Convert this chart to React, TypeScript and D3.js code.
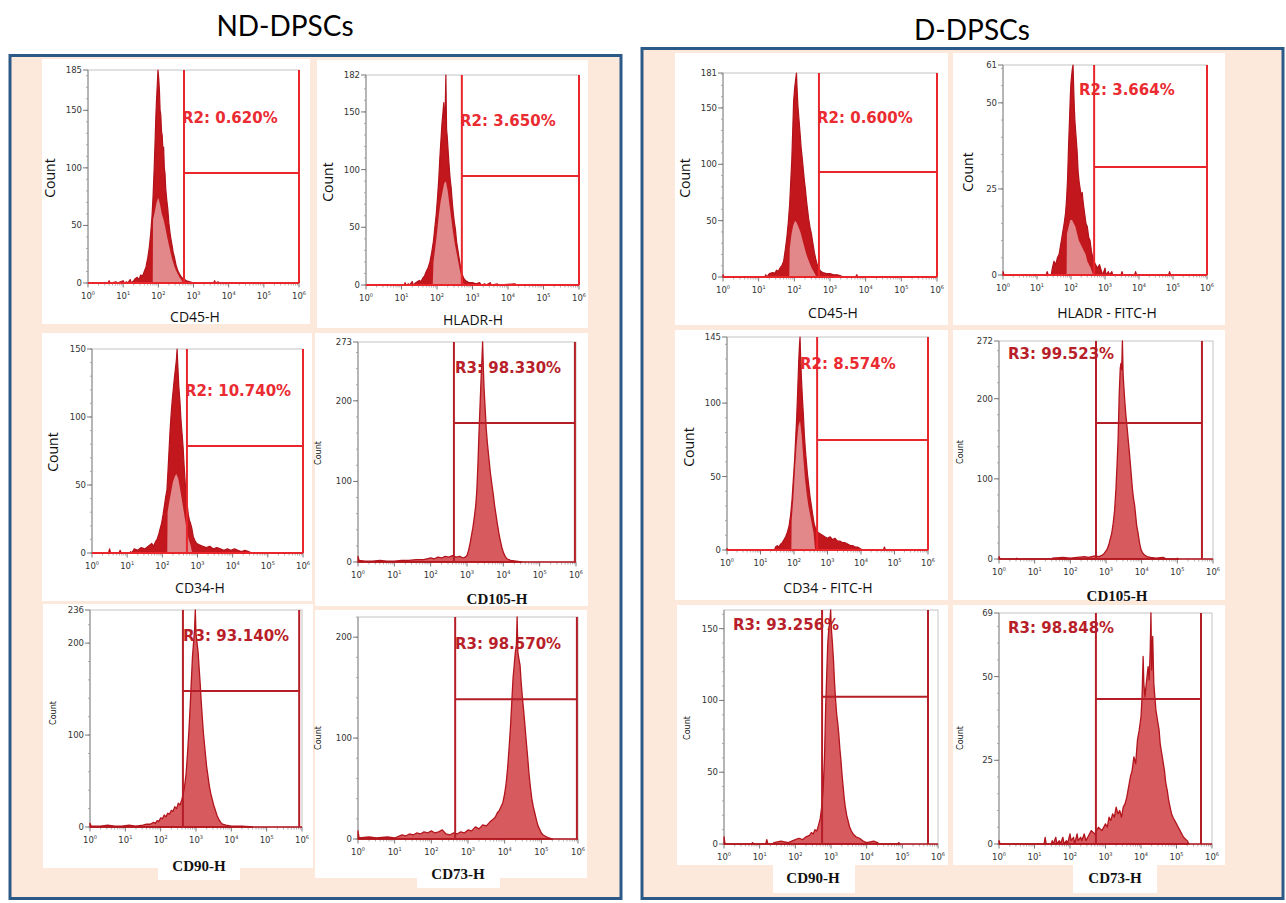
import React from "react";
import * as d3 from "d3";

type Pt = [number, number]; // [log10 fluorescence, count]

// ---------------- DATA ----------------
const panelTitles = ["ND-DPSCs", "D-DPSCs"];
const decades = [0, 1, 2, 3, 4, 5, 6];

// ND-DPSCs
const cd45ND: Pt[] = [[0.57,0],[0.6,2],[0.63,0],[0.8,1],[0.83,0],[1.0,2],[1.03,0],[1.1,1],[1.13,0],[1.2,3],[1.23,0],[1.3,2],[1.35,4],[1.4,5],[1.45,3],[1.5,7],[1.55,6],[1.6,10],[1.65,14],[1.7,22],[1.74,30],[1.78,42],[1.82,58],[1.85,75],[1.88,98],[1.91,125],[1.93,145],[1.95,160],[1.97,172],[1.99,185],[2.01,178],[2.03,168],[2.05,150],[2.07,146],[2.09,132],[2.11,128],[2.13,115],[2.15,118],[2.17,100],[2.19,95],[2.21,82],[2.24,72],[2.27,64],[2.3,52],[2.33,44],[2.36,38],[2.39,33],[2.42,27],[2.46,22],[2.5,16],[2.54,12],[2.58,9],[2.62,7],[2.66,5],[2.7,4],[2.75,3],[2.8,2],[2.9,1],[3.0,0],[3.57,0],[3.6,2],[3.63,0],[3.7,1],[3.73,0]];
const cd45NDInner: Pt[] = [[1.84,0],[1.85,55],[1.9,62],[1.95,70],[2.0,74],[2.05,68],[2.1,60],[2.15,55],[2.2,48],[2.25,40],[2.3,33],[2.35,26],[2.4,20],[2.45,15],[2.5,11],[2.55,8],[2.6,5],[2.65,3],[2.7,0]];

const hladrND: Pt[] = [[1.08,0],[1.1,2],[1.13,0],[1.2,1],[1.23,0],[1.3,3],[1.33,0],[1.4,2],[1.5,4],[1.55,3],[1.6,6],[1.65,8],[1.7,12],[1.75,15],[1.8,20],[1.85,28],[1.9,38],[1.94,50],[1.98,62],[2.02,78],[2.05,92],[2.08,110],[2.11,125],[2.14,140],[2.17,150],[2.19,158],[2.21,145],[2.23,150],[2.25,182],[2.27,135],[2.29,128],[2.31,118],[2.34,104],[2.37,92],[2.4,84],[2.43,72],[2.46,62],[2.49,54],[2.52,48],[2.55,38],[2.58,32],[2.62,24],[2.66,16],[2.7,10],[2.75,6],[2.8,4],[2.85,3],[2.9,2],[3.0,2],[3.1,1],[3.2,2],[3.25,0],[3.35,1],[3.38,0],[3.5,2],[3.53,0],[3.7,1],[3.73,0],[4.2,1],[4.23,0]];
const hladrNDInner: Pt[] = [[1.88,0],[1.9,20],[1.95,32],[2.0,45],[2.05,60],[2.1,72],[2.15,80],[2.2,88],[2.25,90],[2.3,82],[2.35,70],[2.4,58],[2.45,46],[2.5,36],[2.55,28],[2.6,20],[2.65,12],[2.7,6],[2.75,0]];

const cd34ND: Pt[] = [[0.47,0],[0.5,3],[0.53,0],[0.77,0],[0.8,2],[0.83,0],[1.07,0],[1.1,1],[1.13,0],[1.2,3],[1.3,2],[1.4,4],[1.5,3],[1.6,5],[1.7,7],[1.75,5],[1.8,8],[1.85,10],[1.9,14],[1.94,18],[1.98,22],[2.02,28],[2.06,35],[2.1,42],[2.13,46],[2.16,60],[2.19,75],[2.22,90],[2.25,102],[2.28,112],[2.31,120],[2.34,128],[2.37,135],[2.4,142],[2.42,150],[2.44,138],[2.47,122],[2.5,112],[2.53,98],[2.56,88],[2.59,78],[2.62,64],[2.65,52],[2.68,42],[2.71,35],[2.74,28],[2.77,24],[2.8,22],[2.84,18],[2.88,12],[2.93,9],[2.98,7],[3.05,6],[3.15,5],[3.25,4],[3.35,5],[3.45,3],[3.55,4],[3.65,3],[3.75,2],[3.85,3],[3.95,2],[4.05,3],[4.15,2],[4.25,1],[4.35,2],[4.45,1],[4.55,0]];
const cd34NDInner: Pt[] = [[2.14,0],[2.15,30],[2.2,38],[2.25,45],[2.3,52],[2.35,56],[2.4,58],[2.45,55],[2.5,48],[2.55,40],[2.6,32],[2.65,24],[2.7,16],[2.75,10],[2.8,6],[2.85,0]];

const cd105ND: Pt[] = [[0,7],[0.03,2],[0.2,1],[0.4,1],[0.6,2],[0.8,1],[1.0,1],[1.2,2],[1.4,2],[1.6,3],[1.8,3],[1.9,4],[2.0,5],[2.1,4],[2.2,6],[2.3,5],[2.4,7],[2.5,6],[2.6,8],[2.7,6],[2.8,7],[2.9,5],[2.95,6],[3.0,8],[3.04,14],[3.08,22],[3.12,32],[3.16,42],[3.2,55],[3.24,70],[3.27,88],[3.3,120],[3.33,160],[3.36,195],[3.39,230],[3.41,250],[3.43,273],[3.45,240],[3.47,215],[3.5,190],[3.53,165],[3.56,148],[3.6,130],[3.64,112],[3.68,98],[3.72,85],[3.76,70],[3.8,58],[3.84,46],[3.88,35],[3.92,26],[3.96,18],[4.0,12],[4.05,7],[4.1,4],[4.2,2],[4.35,1],[4.5,0]];

const cd90ND: Pt[] = [[0,4],[0.03,1],[0.3,1],[0.5,2],[0.7,1],[0.9,1],[1.1,2],[1.3,1],[1.5,2],[1.6,3],[1.7,3],[1.8,5],[1.85,4],[1.9,7],[1.95,6],[2.0,10],[2.05,9],[2.1,13],[2.15,11],[2.2,15],[2.25,14],[2.3,18],[2.35,17],[2.4,22],[2.45,20],[2.5,26],[2.55,24],[2.6,30],[2.64,36],[2.68,45],[2.72,58],[2.76,80],[2.8,105],[2.84,135],[2.87,160],[2.9,185],[2.93,200],[2.96,215],[2.98,236],[3.0,210],[3.03,200],[3.06,190],[3.09,172],[3.12,155],[3.15,135],[3.18,118],[3.21,102],[3.24,90],[3.27,78],[3.3,66],[3.34,55],[3.38,44],[3.42,36],[3.46,30],[3.5,24],[3.55,18],[3.6,12],[3.65,8],[3.7,5],[3.75,3],[3.85,2],[4.0,1],[4.3,1],[4.6,0]];

const cd73ND: Pt[] = [[0,8],[0.03,1],[0.3,2],[0.5,1],[0.8,2],[1.0,1],[1.2,4],[1.3,3],[1.4,5],[1.5,4],[1.6,6],[1.7,5],[1.8,7],[1.9,6],[2.0,8],[2.1,6],[2.2,7],[2.3,9],[2.4,5],[2.5,4],[2.6,6],[2.7,5],[2.8,7],[2.9,6],[3.0,9],[3.1,8],[3.2,12],[3.3,10],[3.4,14],[3.5,13],[3.6,17],[3.7,20],[3.75,22],[3.8,26],[3.85,28],[3.9,32],[3.95,36],[4.0,45],[4.04,55],[4.08,70],[4.12,90],[4.16,112],[4.2,140],[4.23,160],[4.26,172],[4.29,185],[4.32,192],[4.34,220],[4.36,185],[4.39,178],[4.42,172],[4.45,155],[4.48,142],[4.51,130],[4.54,118],[4.57,105],[4.6,92],[4.63,80],[4.66,66],[4.7,52],[4.74,40],[4.78,32],[4.82,26],[4.86,20],[4.9,14],[4.95,10],[5.0,6],[5.05,4],[5.1,3],[5.2,1],[5.3,0]];

// D-DPSCs
const cd45D: Pt[] = [[0,2],[0.03,0],[1.17,0],[1.2,2],[1.23,0],[1.3,3],[1.4,4],[1.45,3],[1.5,6],[1.55,5],[1.6,8],[1.65,10],[1.7,14],[1.75,25],[1.79,35],[1.83,48],[1.87,65],[1.9,85],[1.93,105],[1.96,135],[1.98,156],[2.01,168],[2.04,176],[2.06,181],[2.08,165],[2.1,152],[2.13,140],[2.16,128],[2.19,115],[2.22,106],[2.25,96],[2.28,86],[2.31,78],[2.34,68],[2.37,60],[2.4,52],[2.44,44],[2.48,38],[2.52,30],[2.56,22],[2.6,16],[2.64,11],[2.68,8],[2.74,5],[2.8,4],[2.9,3],[3.0,3],[3.1,2],[3.2,2],[3.3,1],[3.35,0],[3.72,0],[3.75,2],[3.78,0]];
const cd45DInner: Pt[] = [[1.86,0],[1.87,25],[1.92,38],[1.97,46],[2.02,50],[2.07,48],[2.12,44],[2.17,40],[2.22,34],[2.27,28],[2.32,22],[2.37,17],[2.42,13],[2.47,9],[2.52,6],[2.57,3],[2.62,0]];

const hladrD: Pt[] = [[0,1],[0.03,0],[1.27,0],[1.3,1],[1.33,0],[1.42,0],[1.45,2],[1.5,4],[1.55,3],[1.6,5],[1.65,6],[1.7,9],[1.75,12],[1.8,15],[1.84,18],[1.87,22],[1.9,28],[1.93,38],[1.96,46],[1.98,52],[2.0,56],[2.02,58],[2.04,60],[2.06,61],[2.08,54],[2.1,48],[2.12,44],[2.15,40],[2.18,36],[2.21,30],[2.24,27],[2.27,25],[2.3,23],[2.33,24],[2.36,21],[2.4,18],[2.44,15],[2.48,14],[2.52,11],[2.56,10],[2.6,7],[2.64,5],[2.68,4],[2.72,3],[2.78,2],[2.84,3],[2.9,1],[2.93,0],[3.0,2],[3.03,0],[3.1,1],[3.13,0],[3.2,1],[3.23,0],[3.47,0],[3.5,1],[3.53,0],[3.87,0],[3.9,1],[3.93,0],[4.87,0],[4.9,1],[4.93,0]];
const hladrDInner: Pt[] = [[1.87,0],[1.88,12],[1.93,14],[1.98,16],[2.03,16],[2.08,15],[2.13,14],[2.18,12],[2.23,10],[2.28,9],[2.33,8],[2.38,7],[2.43,6],[2.48,4],[2.53,3],[2.58,2],[2.65,0]];

const cd34D: Pt[] = [[0,1],[0.03,0],[1.42,0],[1.45,2],[1.5,3],[1.55,2],[1.6,4],[1.65,5],[1.7,7],[1.75,9],[1.8,12],[1.85,16],[1.9,24],[1.94,34],[1.98,48],[2.02,62],[2.05,76],[2.08,90],[2.11,108],[2.14,128],[2.16,138],[2.18,145],[2.2,130],[2.22,118],[2.25,104],[2.28,92],[2.31,78],[2.34,68],[2.37,60],[2.4,52],[2.44,44],[2.48,36],[2.52,30],[2.56,24],[2.6,18],[2.64,15],[2.68,13],[2.72,12],[2.78,11],[2.85,10],[2.92,9],[3.0,8],[3.08,9],[3.15,7],[3.22,8],[3.3,6],[3.38,6],[3.45,5],[3.52,5],[3.6,4],[3.68,3],[3.75,3],[3.82,2],[3.9,2],[3.97,1],[4.05,0],[4.67,0],[4.7,2],[4.73,0]];
const cd34DInner: Pt[] = [[1.92,0],[1.93,20],[1.98,35],[2.03,55],[2.08,72],[2.13,84],[2.18,88],[2.23,78],[2.28,62],[2.33,48],[2.38,38],[2.43,30],[2.48,24],[2.53,18],[2.58,12],[2.63,0]];

const cd105D: Pt[] = [[0,3],[0.03,0],[0.47,0],[0.5,1],[0.53,0],[1.47,0],[1.5,1],[1.8,2],[2.0,1],[2.2,2],[2.4,3],[2.5,2],[2.6,3],[2.7,4],[2.8,3],[2.9,5],[2.95,7],[3.0,10],[3.04,13],[3.08,18],[3.12,25],[3.16,32],[3.2,44],[3.24,60],[3.28,88],[3.31,118],[3.34,150],[3.37,205],[3.4,238],[3.42,244],[3.44,236],[3.46,272],[3.48,230],[3.5,215],[3.53,195],[3.56,178],[3.59,165],[3.62,150],[3.65,136],[3.68,120],[3.71,104],[3.74,88],[3.77,76],[3.8,68],[3.83,55],[3.86,42],[3.9,32],[3.94,20],[3.98,12],[4.02,8],[4.08,5],[4.15,3],[4.25,2],[4.4,1],[4.6,2],[4.7,0],[4.97,0],[5.0,1],[5.03,0]];

const cd90D: Pt[] = [[0,5],[0.03,0],[0.77,0],[0.8,1],[0.83,0],[1.17,0],[1.2,3],[1.23,0],[1.37,0],[1.4,1],[1.6,2],[1.8,1],[1.9,2],[2.0,3],[2.1,4],[2.2,3],[2.3,5],[2.4,6],[2.45,8],[2.5,7],[2.55,10],[2.6,9],[2.65,13],[2.7,18],[2.74,26],[2.78,38],[2.82,62],[2.85,95],[2.88,118],[2.91,140],[2.94,150],[2.97,156],[2.99,163],[3.01,150],[3.04,140],[3.07,128],[3.1,112],[3.13,100],[3.16,90],[3.19,84],[3.22,76],[3.25,66],[3.28,58],[3.31,48],[3.34,40],[3.37,32],[3.4,26],[3.44,20],[3.48,16],[3.52,12],[3.57,9],[3.62,7],[3.7,5],[3.8,4],[3.9,2],[4.0,1],[4.2,2],[4.3,1],[4.35,0],[4.87,0],[4.9,1],[4.93,0]];

const cd73D: Pt[] = [[0,1],[0.03,0],[1.27,0],[1.3,2],[1.33,0],[1.47,0],[1.5,1],[1.53,0],[1.6,2],[1.63,0],[1.7,1],[1.73,0],[1.8,2],[1.83,0],[1.9,1],[1.93,0],[2.0,3],[2.03,1],[2.1,2],[2.13,0],[2.2,3],[2.23,1],[2.3,2],[2.33,1],[2.4,3],[2.45,1],[2.5,2],[2.6,4],[2.7,3],[2.8,5],[2.9,4],[3.0,6],[3.05,5],[3.1,8],[3.15,7],[3.2,9],[3.25,8],[3.3,11],[3.35,9],[3.4,10],[3.45,8],[3.5,11],[3.55,12],[3.6,14],[3.65,17],[3.7,20],[3.75,22],[3.8,26],[3.85,24],[3.9,31],[3.95,34],[4.0,38],[4.03,44],[4.06,56],[4.08,48],[4.11,44],[4.14,47],[4.17,50],[4.2,53],[4.23,49],[4.26,58],[4.28,69],[4.3,52],[4.33,62],[4.36,48],[4.39,44],[4.42,40],[4.45,38],[4.48,36],[4.51,34],[4.54,30],[4.57,28],[4.6,26],[4.63,24],[4.66,22],[4.7,18],[4.74,16],[4.78,13],[4.82,11],[4.86,9],[4.9,8],[4.95,7],[5.0,6],[5.05,5],[5.1,4],[5.15,3],[5.2,2],[5.3,1],[5.35,0]];

// axis labels, y maxima, y ticks, gate (lo decade, hi decade, marker count), region labels
const markerLabels = ["CD45-H", "HLADR-H", "CD34-H", "CD105-H", "CD90-H", "CD73-H", "CD45-H", "HLADR - FITC-H", "CD34 - FITC-H", "CD105-H", "CD90-H", "CD73-H"];
const yMaxes = [185, 182, 150, 273, 236, 220, 181, 61, 145, 272, 163, 69];
const yTickSets = [[0,50,100,150,185],[0,50,100,150,182],[0,50,100,150],[0,100,200,273],[0,100,200,236],[0,100,200],[0,50,100,150,181],[0,25,50,61],[0,50,100,145],[0,100,200,272],[0,50,100,150],[0,25,50,69]];
const yMinorSteps = [10, 10, 10, 20, 20, 20, 10, 5, 10, 20, 10, 5];
const gates: [number, number, number][] = [[2.73,6,95.5],[2.7,6,94.5],[2.7,6,78.7],[2.64,5.97,172.5],[2.63,5.92,147.9],[2.65,5.97,138.6],[2.69,6,93.2],[2.68,6,31.4],[2.69,6,74.9],[2.72,5.69,169.7],[2.75,5.72,102.6],[2.73,5.69,43.3]];
const regionLabels = ["R2: 0.620%", "R2: 3.650%", "R2: 10.740%", "R3: 98.330%", "R3: 93.140%", "R3: 98.570%", "R2: 0.600%", "R2: 3.664%", "R2: 8.574%", "R3: 99.523%", "R3: 93.256%", "R3: 98.848%"];
const mainSeries: Pt[][] = [cd45ND, hladrND, cd34ND, cd105ND, cd90ND, cd73ND, cd45D, hladrD, cd34D, cd105D, cd90D, cd73D];
const innerSeries: (Pt[] | null)[] = [cd45NDInner, hladrNDInner, cd34NDInner, null, null, null, cd45DInner, hladrDInner, cd34DInner, null, null, null];

// ---------------- LAYOUT ----------------
interface Layout {
  box: [number, number, number, number];
  tab?: [number, number, number, number];
  plot: [number, number, number, number]; // x(10^0), x(10^6), yTop, yZero
  label: [number, number];
  count: [number, number];
  xlab: [number, number];
  kind: "A" | "B";
}
const layouts: Layout[] = [
  { box: [42, 59, 268, 265], plot: [88, 299, 70, 283], label: [182, 123], count: [50, 178], xlab: [195, 322], kind: "A" },
  { box: [317, 60, 271, 268], plot: [366, 579, 75, 285], label: [460, 126], count: [328, 182], xlab: [473, 325], kind: "A" },
  { box: [42, 333, 270, 268], plot: [92, 303, 349, 553], label: [185, 396], count: [53, 452], xlab: [200, 593], kind: "A" },
  { box: [315, 333, 273, 273], plot: [358, 576, 342, 562], label: [455, 373], count: [318, 453], xlab: [497, 604], kind: "B" },
  { box: [43, 604, 270, 264], tab: [158, 860, 82, 20], plot: [90, 302, 610, 827], label: [183, 641], count: [53, 713], xlab: [199, 871], kind: "B" },
  { box: [315, 610, 272, 268], tab: [417, 870, 83, 18], plot: [358, 578, 617, 839], label: [455, 649], count: [318, 738], xlab: [458, 879], kind: "B" },
  { box: [675, 53, 273, 272], plot: [723, 937, 73, 277], label: [817, 123], count: [685, 178], xlab: [833, 318], kind: "A" },
  { box: [953, 53, 272, 272], plot: [1003, 1207, 65, 275], label: [1079, 95], count: [968, 172], xlab: [1107, 318], kind: "A" },
  { box: [675, 330, 273, 270], plot: [727, 928, 337, 550], label: [800, 369], count: [689, 447], xlab: [828, 593], kind: "A" },
  { box: [953, 330, 272, 270], plot: [999, 1213, 341, 559], label: [1008, 359], count: [960, 452], xlab: [1117, 601], kind: "B" },
  { box: [677, 605, 271, 260], tab: [773, 860, 82, 33], plot: [724, 938, 610, 844], label: [733, 630], count: [687, 728], xlab: [813, 883], kind: "B" },
  { box: [953, 605, 272, 260], tab: [1073, 860, 84, 33], plot: [999, 1212, 613, 844], label: [1008, 633], count: [960, 738], xlab: [1115, 883], kind: "B" },
];

const STYLE = {
  A: { fill: "#c1171d", stroke: "#b3121a", inner: "#e2878a", gate: "#e8262c", label: "#ea2b31" },
  B: { fill: "#d65a5e", stroke: "#b3151d", inner: "#d65a5e", gate: "#b51d27", label: "#b81f2a" },
};
const TICK_FONT = "'DejaVu Sans', Verdana, sans-serif";

function Histogram({ i }: { i: number }) {
  const L = layouts[i];
  const st = STYLE[L.kind];
  const [x0, x1, yT, yZ] = L.plot;
  const ymax = yMaxes[i];
  const x = d3.scaleLog().domain([1, 1e6]).range([x0, x1]);
  const y = d3.scaleLinear().domain([0, ymax]).range([yZ, yT]);
  const xd = (d: number) => x(Math.pow(10, d));
  const area = d3
    .area<Pt>()
    .x((d) => xd(d[0]))
    .y0(yZ)
    .y1((d) => y(Math.min(d[1], ymax)))
    .curve(d3.curveLinear);
  const [gLo, gHi, gY] = gates[i];
  const minorX: number[] = [];
  for (let k = 0; k < 6; k++) for (let m = 2; m < 10; m++) minorX.push(m * Math.pow(10, k));
  const minorY = d3.range(0, ymax + 0.001, yMinorSteps[i]);
  const inner = innerSeries[i];
  const isA = L.kind === "A";
  return (
    <g>
      <rect x={L.box[0]} y={L.box[1]} width={L.box[2]} height={L.box[3]} fill="#fff" />
      {L.tab && <rect x={L.tab[0]} y={L.tab[1]} width={L.tab[2]} height={L.tab[3]} fill="#fff" />}
      {/* frame */}
      <rect x={x0} y={yT} width={x1 - x0} height={yZ - yT} fill="none" stroke="#c4c4c4" strokeWidth={1} />
      <line x1={x0} x2={x0} y1={yT} y2={yZ} stroke="#8a8a8a" strokeWidth={1} />
      {/* y ticks */}
      {minorY.map((v) => (
        <line key={"ym" + v} x1={x0 - 2} x2={x0} y1={y(v)} y2={y(v)} stroke="#999" strokeWidth={0.8} />
      ))}
      {yTickSets[i].map((v) => (
        <g key={"y" + v}>
          <line x1={x0 - 5} x2={x0} y1={y(v)} y2={y(v)} stroke="#777" strokeWidth={1} />
          <text x={x0 - 6} y={y(v) + 3} fontSize={8.5} fill="#333" textAnchor="end" fontFamily={TICK_FONT}>
            {v}
          </text>
        </g>
      ))}
      {/* x ticks */}
      {minorX.map((v) => (
        <line key={"xm" + v} x1={x(v)} x2={x(v)} y1={yZ} y2={yZ + 2.5} stroke="#999" strokeWidth={0.8} />
      ))}
      {decades.map((k) => (
        <g key={"x" + k}>
          <line x1={xd(k)} x2={xd(k)} y1={yZ} y2={yZ + 4.5} stroke="#777" strokeWidth={1} />
          <text x={xd(k)} y={yZ + 16} fontSize={8.5} fill="#333" textAnchor="middle" fontFamily={TICK_FONT}>
            10
            <tspan dy={-4} fontSize={5}>
              {k}
            </tspan>
          </text>
        </g>
      ))}
      {/* region label */}
      <text x={L.label[0]} y={L.label[1]} fontSize={15} fontWeight="bold" fill={st.label} fontFamily="'DejaVu Sans', Verdana, sans-serif">
        {regionLabels[i]}
      </text>
      {/* histogram */}
      <path d={area(mainSeries[i]) || ""} fill={st.fill} stroke={st.stroke} strokeWidth={isA ? 1.2 : 1.3} strokeLinejoin="round" />
      {inner && <path d={area(inner) || ""} fill={st.inner} stroke="none" />}
      {/* baseline */}
      <line x1={x0} x2={x1} y1={yZ} y2={yZ} stroke={isA ? st.gate : st.stroke} strokeWidth={isA ? 2 : 1.5} />
      {/* gate */}
      <line x1={xd(gLo)} x2={xd(gLo)} y1={yT} y2={yZ} stroke={st.gate} strokeWidth={2} />
      <line x1={xd(gHi)} x2={xd(gHi)} y1={yT} y2={yZ} stroke={st.gate} strokeWidth={2} />
      <line x1={xd(gLo)} x2={xd(gHi)} y1={y(gY)} y2={y(gY)} stroke={st.gate} strokeWidth={2} />
      {/* axis titles */}
      <text
        transform={`translate(${L.count[0]},${L.count[1]}) rotate(-90)`}
        textAnchor="middle"
        dy={isA ? 5 : 3}
        fontSize={isA ? 14 : 8}
        fill="#111"
        fontFamily={isA ? "'Open Sans', sans-serif" : "'DejaVu Sans', sans-serif"}
      >
        Count
      </text>
      <text
        x={L.xlab[0]}
        y={L.xlab[1]}
        textAnchor="middle"
        fontSize={isA ? 14 : 15}
        fontWeight={isA ? "normal" : "bold"}
        fill="#111"
        fontFamily={isA ? "'Open Sans', sans-serif" : "'Liberation Serif', 'Times New Roman', serif"}
      >
        {markerLabels[i]}
      </text>
    </g>
  );
}

export default function App() {
  return (
    <svg width={1286} height={903} style={{ position: "absolute", left: 0, top: 0, background: "#fff" }}>
      <rect x={0} y={0} width={1286} height={903} fill="#fff" />
      <text x={285} y={36} fontSize={28} textAnchor="middle" fontFamily="Lato, 'Open Sans', sans-serif" fill="#000">
        {panelTitles[0]}
      </text>
      <text x={972} y={40} fontSize={28} textAnchor="middle" fontFamily="Lato, 'Open Sans', sans-serif" fill="#000">
        {panelTitles[1]}
      </text>
      <rect x={10} y={55.5} width={611} height={843} fill="#fde9dc" stroke="#2c5a88" strokeWidth={3} />
      <rect x={642} y={48.5} width={641} height={850} fill="#fde9dc" stroke="#2c5a88" strokeWidth={3} />
      {layouts.map((_, i) => (
        <Histogram key={i} i={i} />
      ))}
    </svg>
  );
}
